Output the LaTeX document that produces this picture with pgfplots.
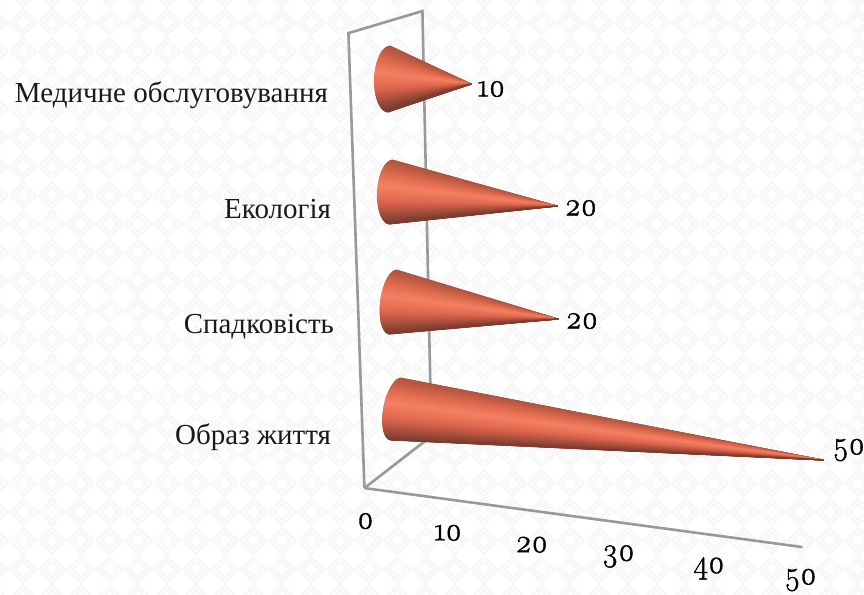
\documentclass[border=0pt]{standalone}
\usepackage{fontspec}
\usepackage{pgfplots}
\pgfplotsset{compat=1.18}
\setmainfont{Liberation Serif}
\newfontfamily\numf[Numbers=OldStyle,FakeStretch=0.94,FakeBold=1.2]{Latin Modern Roman}

% cone lighting, top edge to bottom edge
\pgfplotsset{colormap={cone}{
  rgb255(0cm)=(176,84,62)
  rgb255(2cm)=(222,106,78)
  rgb255(4cm)=(246,128,98)
  rgb255(6.5cm)=(222,102,78)
  rgb255(8.5cm)=(165,78,60)
  rgb255(10cm)=(120,60,48)
}}

% value, tip px x, tip px y, base px x, base px y, rx, ry, shear
\newcommand{\cone}[8]{%
  \pgfmathsetmacro\dx{#2-364-8.76*#1}%
  \pgfmathsetmacro\tipy{487-#3+1.18*#1}%
  \foreach \i in {0,...,47}{%
    \pgfmathsetmacro\ta{90+\i*3.75}%
    \pgfmathsetmacro\tb{\ta+3.75}%
    \pgfmathsetmacro\xa{(#4+#6*cos(\ta)+#8*sin(\ta)-364-\dx)/8.76}%
    \pgfmathsetmacro\ya{487-(#5-#7*sin(\ta))+1.18*\xa}%
    \pgfmathsetmacro\xb{(#4+#6*cos(\tb)+#8*sin(\tb)-364-\dx)/8.76}%
    \pgfmathsetmacro\yb{487-(#5-#7*sin(\tb))+1.18*\xb}%
    \pgfmathtruncatemacro\cm{500*(1-sin(\ta+1.875))}%
    \edef\temp{\noexpand\addplot[forget plot,color of colormap={\cm\space of cone},fill=.,draw=.,line width=0.8pt,line join=round,xshift=\dx pt]
      coordinates {(#1,\tipy) (\xa,\ya) (\xb,\yb)} --cycle;}%
    \temp
  }%
}

\begin{document}
\begin{tikzpicture}[x=1pt,y=1pt]
\path[use as bounding box] (0,0) rectangle (864,594);
\begin{scope}
  \clip (0,0) rectangle (864,594);
  \fill[white] (0,0) rectangle (864,594);
  \foreach \cx in {-5.8,23,...,880}{
    \foreach \cy in {-4.4,24.4,...,610}{
      \draw[black!3,line width=2.4pt] (\cx-8,\cy) -- (\cx,\cy+8) -- (\cx+8,\cy) -- (\cx,\cy-8) -- cycle;
      \draw[black!3,line width=2.4pt] (\cx-13,\cy) -- (\cx,\cy+13) -- (\cx+13,\cy) -- (\cx,\cy-13) -- cycle;
    }
  }
\end{scope}
\begin{axis}[
  at={(416,155)}, anchor=origin,
  x={(8.76pt,-1.18pt)}, y={(0pt,1pt)},
  xmin=0, xmax=50, ymin=0, ymax=490,
  axis x line*=bottom, axis y line=none,
  axis line style={draw=black!40,line width=2.6pt},
  clip=false,
  xtick={0,10,20,30,40,50},
  xticklabels={\hspace*{10pt}0,10,20\hspace*{8pt},30\hspace*{10pt},40\hspace*{4pt},\hspace*{4pt}50},
  major tick length=0pt,
  /pgf/number format/assume math mode=true,
  xticklabel style={font=\numf\fontsize{33}{33}\selectfont,anchor=center,xshift=-4pt,yshift=-33pt},
  tick style={draw=none},
]
% chart walls
\addplot[forget plot,draw=black!40,line width=2.6pt] coordinates {(0,0) (-1.826,452.8) (6.621,484.8) (7.648,61)};
\addplot[forget plot,draw=black!40,line width=2.6pt] coordinates {(0,0) (7.648,61)};

\cone{10}{471}{83}{389}{78}{15}{33}{1}
\cone{20}{557}{205}{391}{191}{14}{32}{1.5}
\cone{20}{558}{318}{393}{301}{13}{32}{3.5}
\cone{50}{823}{459}{396}{408}{13}{31}{5}

% value labels
\pgfplotsset{every axis plot/.append style={point meta=x,
  nodes near coords={\numf\fontsize{33}{33}\selectfont\pgfmathprintnumber{\pgfplotspointmeta}},
  nodes near coords style={anchor=west,inner sep=0pt}}}
\addplot[draw=none,xshift=19.4pt,nodes near coords style={xshift=6pt,yshift=-5pt}] coordinates {(10,415.8)};
\addplot[draw=none,xshift=17.8pt,nodes near coords style={xshift=7pt,yshift=-2pt}] coordinates {(20,305.6)};
\addplot[draw=none,xshift=18.8pt,nodes near coords style={xshift=7pt,yshift=-2pt}] coordinates {(20,192.6)};
\addplot[draw=none,xshift=21pt,nodes near coords style={xshift=9pt,yshift=10pt}] coordinates {(50,87)};

% category names
\begin{scope}[font=\fontsize{29}{29}\selectfont,text=black!90]
\node[anchor=base east,xshift=-33pt] at (axis cs:0,386) {Медичне обслуговування};
\node[anchor=base east,xshift=-30pt] at (axis cs:0,270) {Екологія};
\node[anchor=base east,xshift=-27pt] at (axis cs:0,155) {Спадковість};
\node[anchor=base east,xshift=-30pt] at (axis cs:0,44) {Образ життя};
\end{scope}
\end{axis}
\end{tikzpicture}
\end{document}
